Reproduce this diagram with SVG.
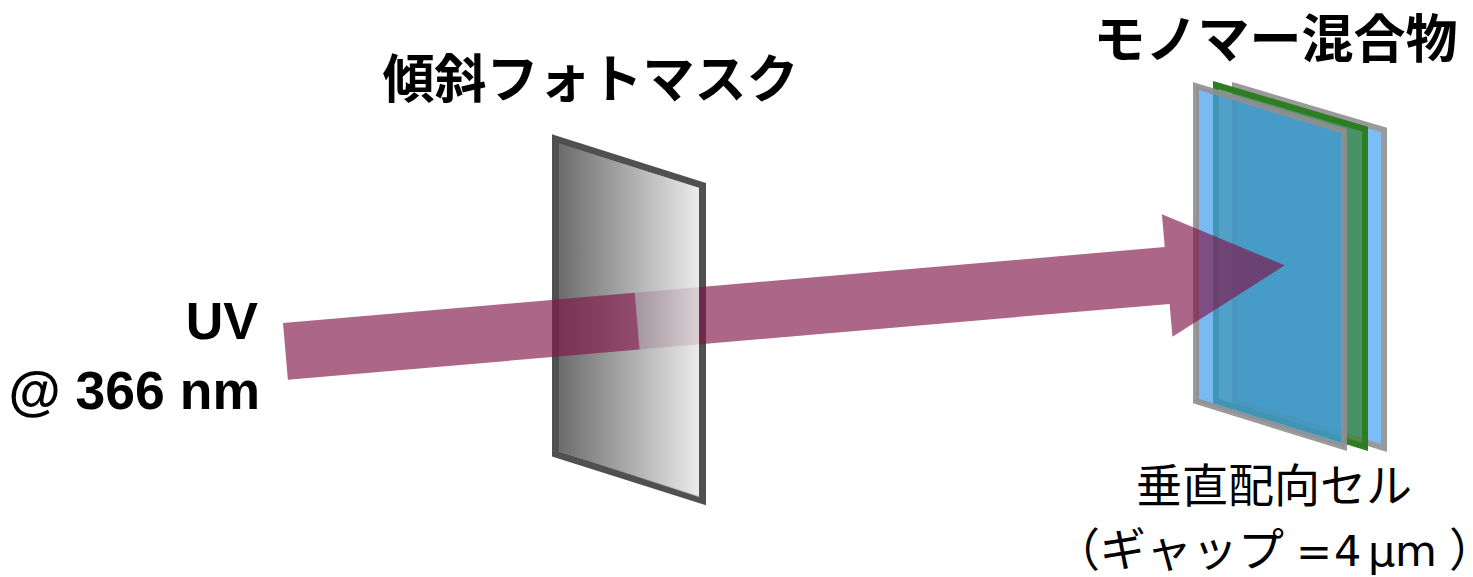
<svg xmlns="http://www.w3.org/2000/svg" width="1473" height="577" viewBox="0 0 1473 577">
  <defs>
    <linearGradient id="maskGrad" gradientUnits="userSpaceOnUse" x1="555" y1="0" x2="703" y2="0">
      <stop offset="0" stop-color="#474747"/>
      <stop offset="1" stop-color="#ebebeb"/>
    </linearGradient>
  </defs>
  <style>
    .jp-bold { font-family: "Noto Sans CJK JP", "Noto Sans", sans-serif; font-weight: 700; fill: #000; }
    .jp { font-family: "Noto Sans CJK JP", "Noto Sans", sans-serif; font-weight: 400; fill: #000; }
    .latin-bold { font-family: "Liberation Sans", Arial, sans-serif; font-weight: 700; fill: #000; }
    .latin { font-family: "DejaVu Sans", "Liberation Sans", sans-serif; font-weight: 400; font-size: 43px; }
    .half { font-feature-settings: "halt" 1; }
    .beam { fill: #7e1448; fill-opacity: 0.65; }
    .plate-gray { stroke: #9a9a9a; stroke-width: 6; stroke-linejoin: miter; }
  </style>

  <rect width="1473" height="577" fill="#ffffff"/>

  <!-- vertically aligned cell: back substrate, green layer, front substrate -->
  <g id="cell">
    <polygon class="plate-gray" points="1235,86 1384,130 1384,448 1235,402" fill="#7dbdf7"/>
    <polygon points="1216,85 1365,129 1365,447 1216,401" fill="#2e7d20" fill-opacity="0.68" stroke="#2e7d20" stroke-width="6"/>
    <polygon points="1196,86 1344,131 1344,447 1196,401" fill="#469eed" fill-opacity="0.72" stroke="#8f8f8f" stroke-opacity="0.9" stroke-width="6"/>
  </g>

  <!-- tilted photomask: frame first, so the rear beam passes over it -->
  <g id="photomask-frame">
    <polygon points="555.5,139 702.5,185.5 702.5,500.5 555.5,454" fill="none" stroke="#505050" stroke-width="7"/>
  </g>

  <!-- UV beam, rear part with arrowhead (passes over the cell) -->
  <g id="connectors">
    <g transform="translate(283,323) rotate(-4.92)">
      <polygon class="beam" points="353,0 885,0 885,-33 1003,28.5 885,90 885,57 353,57"/>
    </g>
  </g>

  <!-- photomask face (translucent, lets the beam show through) -->
  <g id="photomask">
    <polygon points="559,143.5 699,187.8 699,497 559,451.5" fill="url(#maskGrad)" fill-opacity="0.82"/>
  </g>

  <!-- front part of the beam, in front of the mask -->
  <g id="beam-front">
    <g transform="translate(283,323) rotate(-4.92)">
      <rect class="beam" x="0" y="0" width="353" height="57"/>
    </g>
  </g>

  <!-- labels -->
  <g id="label-mask">
    <text class="jp-bold" x="590.5" y="98" font-size="52" text-anchor="middle">傾斜フォトマスク</text>
  </g>
  <g id="label-monomer">
    <text class="jp-bold" x="1275.5" y="58" font-size="52" text-anchor="middle">モノマー混合物</text>
  </g>
  <g id="label-uv">
    <text class="latin-bold" x="258" y="339" font-size="52" text-anchor="end">UV</text>
    <text class="latin-bold" x="260" y="409" font-size="53.5" text-anchor="end">@ 366 nm</text>
  </g>
  <g id="label-cell">
    <text class="jp" x="1274" y="502" font-size="46" text-anchor="middle">垂直配向セル</text>
    <text class="jp" y="566" font-size="46"><tspan x="1054">（ギャップ</tspan><tspan class="latin" x="1296">=</tspan><tspan class="latin" x="1334">4</tspan><tspan class="latin" x="1368">μ</tspan><tspan class="latin" x="1395">m</tspan><tspan class="half" x="1449">）</tspan></text>
  </g>
</svg>
